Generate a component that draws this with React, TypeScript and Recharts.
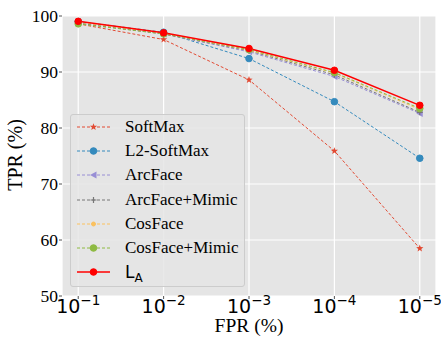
import React from "react";
import { LineChart, Line, XAxis, YAxis, CartesianGrid } from "recharts";

// FPR exponents (10^x) and TPR values
const fprExp = [-1, -2, -3, -4, -5];
const softmax = [98.6, 95.8, 88.6, 75.9, 58.5];
const l2Softmax = [99.0, 97.1, 92.4, 84.7, 74.6];
const arcFace = [98.8, 96.8, 93.6, 89.2, 82.6];
const arcFaceMimic = [98.7, 96.8, 93.8, 89.5, 82.8];
const cosFace = [98.9, 96.9, 93.9, 89.8, 83.3];
const cosFaceMimic = [98.6, 96.8, 94.0, 89.9, 83.5];
const lA = [99.05, 97.0, 94.2, 90.3, 84.05];
const yTicks = [50, 60, 70, 80, 90, 100];

const serif = "'Liberation Serif', 'Times New Roman', serif";
const sans = "'DejaVu Sans', sans-serif";

type Marker = "star" | "circle" | "triLeft" | "plus" | "point";

const series: { key: string; name: string; color: string; dash?: string; width: number; marker: Marker; values: number[] }[] = [
  { key: "softmax", name: "SoftMax", color: "#E24A33", dash: "3 2", width: 1, marker: "star", values: softmax },
  { key: "l2", name: "L2-SoftMax", color: "#348ABD", dash: "3 2", width: 1, marker: "circle", values: l2Softmax },
  { key: "arc", name: "ArcFace", color: "#988ED5", dash: "3 2", width: 1, marker: "triLeft", values: arcFace },
  { key: "arcm", name: "ArcFace+Mimic", color: "#777777", dash: "3 2", width: 1, marker: "plus", values: arcFaceMimic },
  { key: "cos", name: "CosFace", color: "#FBC15E", dash: "3 2", width: 1, marker: "point", values: cosFace },
  { key: "cosm", name: "CosFace+Mimic", color: "#8EBA42", dash: "3 2", width: 1, marker: "circle", values: cosFaceMimic },
  { key: "la", name: "L_A", color: "#FF0000", width: 1.5, marker: "circle", values: lA },
];

const data = fprExp.map((e, i) => {
  const row: Record<string, number> = { x: i, exp: e };
  series.forEach((s) => (row[s.key] = s.values[i]));
  return row;
});

function markerShape(m: Marker, cx: number, cy: number, color: string, key?: any) {
  if (m === "circle") return <circle key={key} cx={cx} cy={cy} r={3.3} fill={color} stroke={color} />;
  if (m === "point") return <circle key={key} cx={cx} cy={cy} r={2} fill={color} stroke={color} />;
  if (m === "plus")
    return (
      <path key={key} d={`M${cx - 3},${cy}H${cx + 3}M${cx},${cy - 3}V${cy + 3}`} stroke={color} strokeWidth={1.2} fill="none" />
    );
  if (m === "triLeft")
    return <polygon key={key} points={`${cx - 3.5},${cy} ${cx + 3},${cy - 3.5} ${cx + 3},${cy + 3.5}`} fill={color} />;
  const pts: string[] = [];
  for (let i = 0; i < 10; i++) {
    const r = i % 2 === 0 ? 3.8 : 1.6;
    const a = -Math.PI / 2 + (i * Math.PI) / 5;
    pts.push(`${cx + r * Math.cos(a)},${cy + r * Math.sin(a)}`);
  }
  return <polygon key={key} points={pts.join(" ")} fill={color} />;
}

function XTick(props: any) {
  const { x, y, payload } = props;
  const e = fprExp[payload.value];
  return (
    <text x={x} y={y + 12} textAnchor="middle" fontFamily={sans} fontSize={19} fill="#000">
      <tspan>10</tspan>
      <tspan dy={-8} fontSize={13.5}>{`\u2212${Math.abs(e)}`}</tspan>
    </text>
  );
}

function SeriesName({ name }: { name: string }) {
  if (name === "L_A")
    return (
      <span style={{ fontFamily: sans, fontSize: 17 }}>
        L<sub style={{ fontSize: 12, verticalAlign: -4 }}>A</sub>
      </span>
    );
  return <span>{name}</span>;
}

function LegendBox() {
  return (
    <div
      style={{
        position: "absolute",
        left: 70,
        top: 114,
        width: 175,
        height: 173,
        background: "rgba(229,229,229,0.85)",
        border: "1px solid #cccccc",
        borderRadius: 3,
        boxSizing: "border-box",
        fontFamily: serif,
        fontSize: 17,
        color: "#000",
      }}
    >
      {series.map((s, i) => (
        <div key={s.key} style={{ position: "absolute", left: 0, top: i * 24.2, height: 24, width: "100%" }}>
          <svg width={40} height={24} style={{ position: "absolute", left: 6, top: 0 }}>
            <line x1={0} x2={33} y1={12} y2={12} stroke={s.color} strokeWidth={s.width} strokeDasharray={s.dash} />
            {markerShape(s.marker, 16.5, 12, s.color)}
          </svg>
          <div style={{ position: "absolute", left: 54, top: 0, lineHeight: "24px", whiteSpace: "nowrap" }}>
            <SeriesName name={s.name} />
          </div>
        </div>
      ))}
    </div>
  );
}

export default function App() {
  return (
    <div style={{ position: "absolute", left: 0, top: 0, width: 441, height: 337, background: "#fff" }}>
      <LineChart width={441} height={337} data={data} margin={{ top: 16, right: 5, bottom: 0, left: 0 }}>
        <CartesianGrid fill="#E5E5E5" stroke="#ffffff" strokeWidth={1.2} />
        <XAxis
          dataKey="x"
          type="number"
          domain={[-0.19, 4.19]}
          ticks={[0, 1, 2, 3, 4]}
          tick={<XTick />}
          height={41}
          axisLine={false}
          tickSize={3}
          tickLine={{ stroke: "#555" }}
          label={{
            content: () => (
              <text x={249} y={332} textAnchor="middle" fontFamily={serif} fontSize={19.5} fill="#000">
                FPR (%)
              </text>
            ),
          }}
        />
        <YAxis
          type="number"
          domain={[50, 100]}
          ticks={yTicks}
          width={62}
          axisLine={false}
          tickSize={3}
          tickMargin={1}
          tickLine={{ stroke: "#555" }}
          tick={{ fontFamily: serif, fontSize: 17.5, fill: "#000" }}
          label={{
            content: () => (
              <text
                x={0}
                y={0}
                transform="translate(22,155) rotate(-90)"
                textAnchor="middle"
                fontFamily={serif}
                fontSize={20}
                fill="#000"
              >
                TPR (%)
              </text>
            ),
          }}
        />
        {series.map((s) => (
          <Line
            key={s.key}
            dataKey={s.key}
            name={s.name}
            stroke={s.color}
            strokeWidth={s.width}
            strokeDasharray={s.dash}
            type="linear"
            isAnimationActive={false}
            dot={(p: any) => markerShape(s.marker, p.cx, p.cy, s.color, `${s.key}-${p.index}`)}
            activeDot={false}
          />
        ))}
      </LineChart>
      <LegendBox />
    </div>
  );
}
